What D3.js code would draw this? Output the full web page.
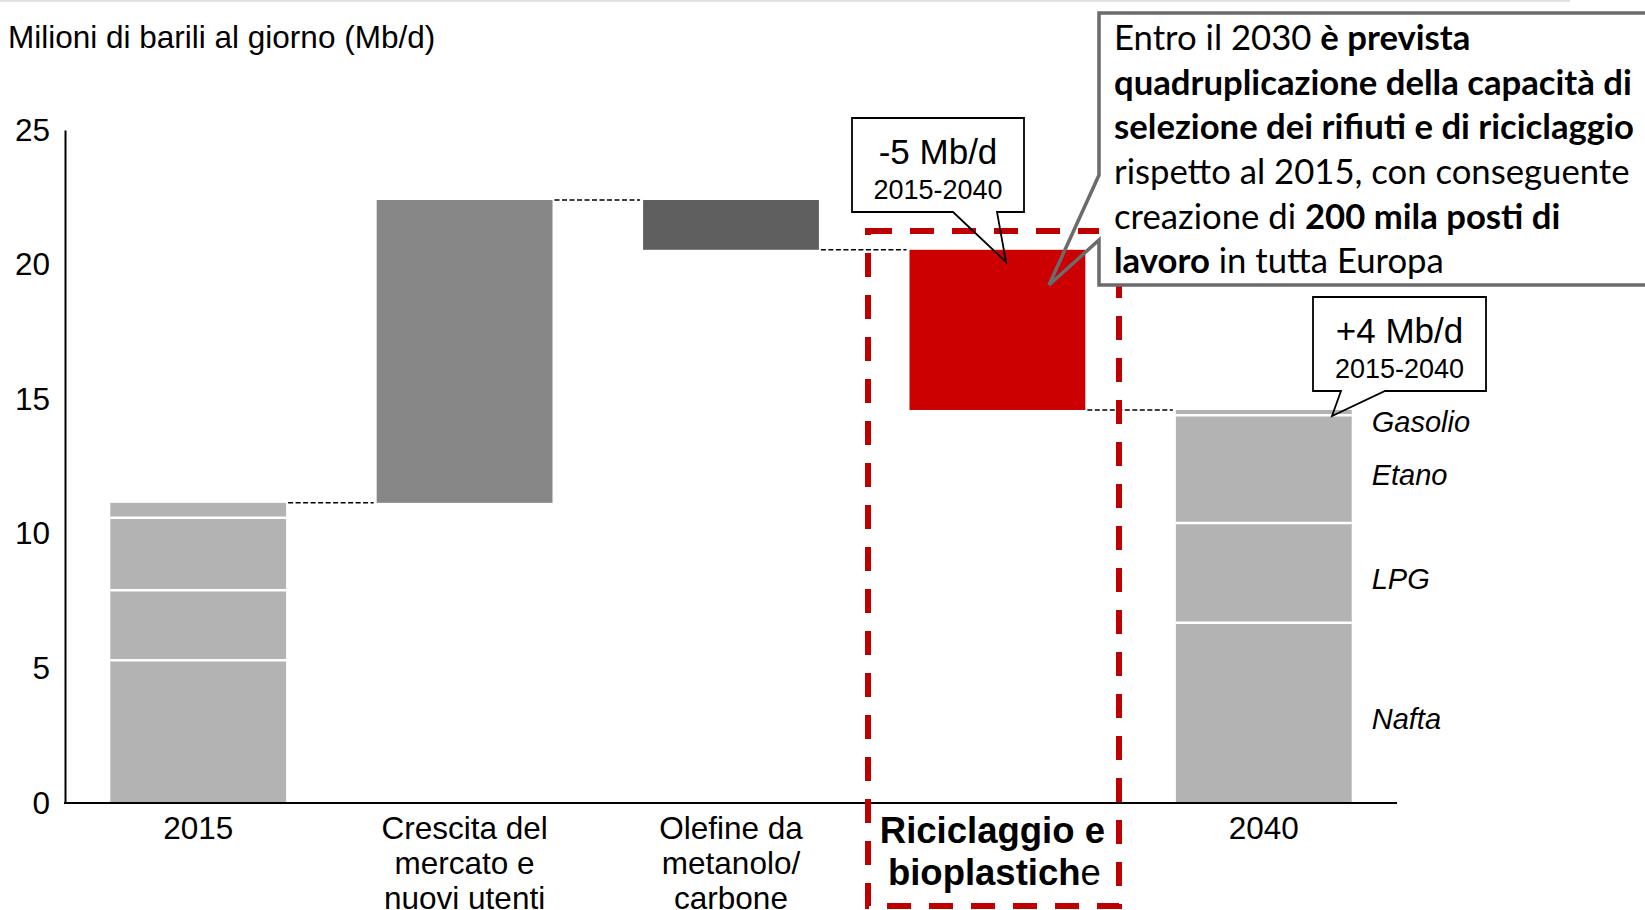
<!DOCTYPE html>
<html><head><meta charset="utf-8">
<script src="https://cdn.jsdelivr.net/npm/d3@7"></script>
<style>
html,body{margin:0;padding:0;background:#fff;}
svg{display:block;}
</style></head><body>
<svg id="chart" width="1645" height="910"></svg>
<script>
// ---- data ----
const categories = ["2015", "Crescita", "Olefine", "Riciclaggio", "2040"];
const categoryLabelLines = [
  ["2015"],
  ["Crescita del", "mercato e", "nuovi utenti"],
  ["Olefine da", "metanolo/", "carbone"],
  ["Riciclaggio e", "bioplastiche"],
  ["2040"]
];
const feedstocks = ["Nafta", "LPG", "Etano", "Gasolio"];
const values2015 = [5.3, 2.6, 2.7, 0.55];
const values2040 = [6.7, 3.7, 4.0, 0.2];
const deltas = [11.25, -1.85, -5.95];          // Crescita, Olefine, Riciclaggio
const deltaColors = ["#878787", "#5f5f5f", "#cc0000"];
const yTicks = [0, 5, 10, 15, 20, 25];
const yTitle = "Milioni di barili al giorno (Mb/d)";
const calloutMinus = ["-5 Mb/d", "2015-2040"];
const calloutPlus = ["+4 Mb/d", "2015-2040"];
const bigCalloutLines = [
  [["Entro il 2030 ", false], ["è prevista", true]],
  [["quadruplicazione della capacità di", true]],
  [["selezione dei rifiuti e di riciclaggio", true]],
  [["rispetto al 2015, con conseguente", false]],
  [["creazione di ", false], ["200 mila posti di", true]],
  [["lavoro", true], [" in tutta Europa", false]]
];

// ---- setup ----
const svg = d3.select("#chart");
const FONT = "'Liberation Sans', Arial, sans-serif";
const x = d3.scaleBand().domain(categories).range([65, 1397]).paddingInner(0.34).paddingOuter(0.17);
const y = d3.scaleLinear().domain([0, 25]).range([803, 130]);
const bw = x.bandwidth();

// faint top rule
svg.append("line").attr("x1", 0).attr("x2", 1570).attr("y1", 1).attr("y2", 1)
  .attr("stroke", "#e2e2e2").attr("stroke-width", 2);

// title
svg.append("text").attr("x", 8).attr("y", 48).attr("font-family", FONT)
  .attr("font-size", 31.5).attr("fill", "#000").text(yTitle);

// ---- stacked bars ----
function stacked(cat, vals) {
  let cum = 0;
  const segs = vals.map((v, i) => { const s = {name: feedstocks[i], y0: cum, y1: cum + v}; cum += v; return s; });
  const g = svg.append("g");
  g.selectAll("rect").data(segs).enter().append("rect")
    .attr("x", x(cat)).attr("width", bw)
    .attr("y", d => y(d.y1)).attr("height", d => y(d.y0) - y(d.y1))
    .attr("fill", "#b3b3b3");
  g.selectAll("line").data(segs.slice(1)).enter().append("line")
    .attr("x1", x(cat)).attr("x2", x(cat) + bw)
    .attr("y1", d => y(d.y0)).attr("y2", d => y(d.y0))
    .attr("stroke", "#fff").attr("stroke-width", 2.5);
  return segs;
}
const segs2015 = stacked("2015", values2015);
const segs2040 = stacked("2040", values2040);

// ---- waterfall deltas ----
let level = d3.sum(values2015);
const levels = [level];
const steps = deltas.map((d, i) => {
  const s = {cat: categories[i + 1], from: level, to: level + d, color: deltaColors[i]};
  level += d; levels.push(level);
  return s;
});
svg.append("g").selectAll("rect").data(steps).enter().append("rect")
  .attr("x", d => x(d.cat)).attr("width", bw)
  .attr("y", d => y(Math.max(d.from, d.to)))
  .attr("height", d => Math.abs(y(d.from) - y(d.to)))
  .attr("fill", d => d.color);

// connectors
svg.append("g").selectAll("line").data(levels).enter().append("line")
  .attr("x1", (d, i) => x(categories[i]) + bw + 2)
  .attr("x2", (d, i) => x(categories[i + 1]) - 3)
  .attr("y1", d => y(d)).attr("y2", d => y(d))
  .attr("stroke", "#000").attr("stroke-width", 1.5).attr("stroke-dasharray", "5,2.5");

// ---- axes ----
const yAxis = svg.append("g").attr("transform", "translate(65,0)")
  .call(d3.axisLeft(y).tickValues(yTicks).tickSize(0).tickPadding(15).tickFormat(d3.format("d")));
yAxis.select(".domain").attr("stroke", "#000").attr("stroke-width", 2);
yAxis.selectAll("text").attr("font-family", FONT).attr("font-size", 31.5).attr("fill", "#000");
svg.append("line").attr("x1", 64).attr("x2", 1397).attr("y1", y(0)).attr("y2", y(0))
  .attr("stroke", "#000").attr("stroke-width", 2);

// ---- category labels ----
categoryLabelLines.forEach((lines, i) => {
  const cx = x(categories[i]) + bw / 2;
  if (categories[i] === "Riciclaggio") {
    const t = svg.append("text").attr("text-anchor", "middle").attr("font-family", FONT)
      .attr("font-size", 36.5).attr("font-weight", "bold").attr("fill", "#000");
    t.append("tspan").attr("x", cx - 5).attr("y", 843).text(lines[0]);
    const t2 = t.append("tspan").attr("x", cx - 3).attr("y", 885);
    t2.append("tspan").text(lines[1].slice(0, -1));
    t2.append("tspan").attr("font-weight", "normal").text(lines[1].slice(-1));
  } else {
    const t = svg.append("text").attr("text-anchor", "middle").attr("font-family", FONT)
      .attr("font-size", 31.5).attr("fill", "#000");
    lines.forEach((l, j) => t.append("tspan").attr("x", cx).attr("y", 839 + j * 35).text(l));
  }
});

// feedstock labels beside 2040
segs2040.forEach((s, i) => {
  const yy = (i === segs2040.length - 1 ? y(s.y0) : y((s.y0 + s.y1) / 2)) + 6;
  svg.append("text").attr("x", x("2040") + bw + 20).attr("y", yy).attr("dy", "0.35em")
    .attr("font-family", FONT).attr("font-size", 29).attr("font-style", "italic")
    .attr("fill", "#000").text(s.name);
});

// ---- red dashed highlight ----
svg.append("rect").attr("x", 868).attr("y", 231).attr("width", 251).attr("height", 675)
  .attr("fill", "none").attr("stroke", "#c00000").attr("stroke-width", 6)
  .attr("stroke-dasharray", "24,18");

// ---- callouts ----
function smallCallout(x0, y0, x1, y1, bl, br, tip, stroke, sw, lines) {
  svg.append("rect").attr("x", x0).attr("y", y0).attr("width", x1 - x0).attr("height", y1 - y0).attr("fill", "#fff");
  const p = d3.path();
  p.moveTo(bl, y1); p.lineTo(x0, y1); p.lineTo(x0, y0); p.lineTo(x1, y0); p.lineTo(x1, y1);
  p.lineTo(br, y1); p.lineTo(tip[0], tip[1]); p.closePath();
  svg.append("path").attr("d", p.toString()).attr("fill", "none").attr("stroke", stroke)
    .attr("stroke-width", sw).attr("stroke-linejoin", "miter");
  const cx = (x0 + x1) / 2;
  svg.append("text").attr("x", cx).attr("y", y0 + 46).attr("text-anchor", "middle")
    .attr("font-family", FONT).attr("font-size", 35).attr("fill", "#000").text(lines[0]);
  svg.append("text").attr("x", cx).attr("y", y0 + 81).attr("text-anchor", "middle")
    .attr("font-family", FONT).attr("font-size", 27).attr("fill", "#000").text(lines[1]);
}
smallCallout(852, 118, 1024, 212, 953, 997, [1006, 262], "#000", 1.8, calloutMinus);
smallCallout(1313, 297, 1486, 391, 1341, 1385, [1332, 416], "#000", 1.8, calloutPlus);

// big callout
svg.append("rect").attr("x", 1099).attr("y", 13).attr("width", 560).attr("height", 272).attr("fill", "#fff");
const bp = d3.path();
bp.moveTo(1660, 13); bp.lineTo(1099, 13); bp.lineTo(1099, 175); bp.lineTo(1049, 285);
bp.lineTo(1099, 240); bp.lineTo(1099, 285); bp.lineTo(1660, 285);
svg.append("path").attr("d", bp.toString()).attr("fill", "none").attr("stroke", "#6b6b6b")
  .attr("stroke-width", 3.5).attr("stroke-linejoin", "miter");

const BIGFONT = "Lato, 'Open Sans', sans-serif";
// fit font size so that the widest bold line matches the reference width
const probe = svg.append("text").attr("font-family", BIGFONT).attr("font-weight", "bold")
  .attr("font-size", 100).text(bigCalloutLines[2][0][0]);
const bigSize = 100 * 520 / probe.node().getComputedTextLength();
probe.remove();
const baselines = [50, 95, 139, 184, 229, 273];
bigCalloutLines.forEach((line, i) => {
  const t = svg.append("text").attr("x", 1114).attr("y", baselines[i])
    .attr("font-family", BIGFONT).attr("font-size", bigSize).attr("fill", "#000");
  line.forEach(([str, bold]) => t.append("tspan").attr("font-weight", bold ? "bold" : "normal").text(str));
});
</script>
</body></html>
